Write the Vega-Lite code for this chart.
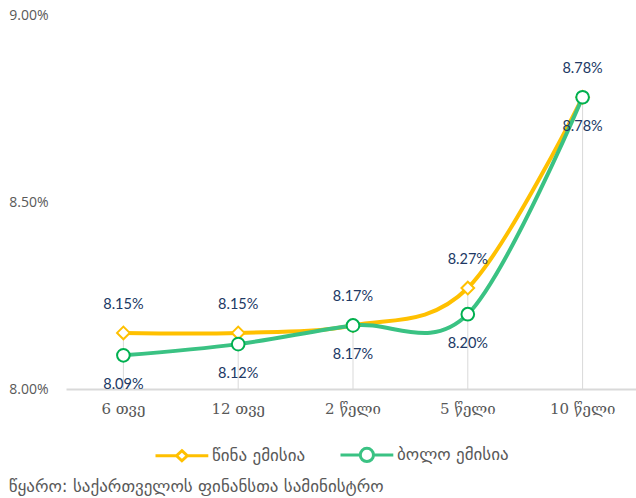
{
  "$schema": "https://vega.github.io/schema/vega-lite/v6.json",
  "width": 574,
  "height": 374,
  "padding": {"left": 8, "top": 8, "right": 0, "bottom": 4},
  "background": "white",
  "data": {
    "values": [
      {"term": "6 თვე", "series": "წინა ემისია", "value": 8.15},
      {"term": "12 თვე", "series": "წინა ემისია", "value": 8.15},
      {"term": "2 წელი", "series": "წინა ემისია", "value": 8.17},
      {"term": "5 წელი", "series": "წინა ემისია", "value": 8.27},
      {"term": "10 წელი", "series": "წინა ემისია", "value": 8.78},
      {"term": "6 თვე", "series": "ბოლო ემისია", "value": 8.09},
      {"term": "12 თვე", "series": "ბოლო ემისია", "value": 8.12},
      {"term": "2 წელი", "series": "ბოლო ემისია", "value": 8.17},
      {"term": "5 წელი", "series": "ბოლო ემისია", "value": 8.20},
      {"term": "10 წელი", "series": "ბოლო ემისია", "value": 8.78}
    ]
  },
  "transform": [{"calculate": "format(datum.value, '.2f') + '%'", "as": "label"}],
  "title": {
    "text": "წყარო: საქართველოს ფინანსთა სამინისტრო",
    "orient": "bottom",
    "anchor": "start",
    "frame": "bounds",
    "font": "DejaVu Sans",
    "fontSize": 17,
    "fontWeight": "normal",
    "color": "#595959",
    "offset": 11
  },
  "encoding": {
    "x": {
      "field": "term",
      "type": "nominal",
      "sort": null,
      "scale": {"paddingInner": 0, "paddingOuter": 0},
      "axis": {
        "title": null,
        "labelAngle": 0,
        "ticks": false,
        "domainColor": "#d9d9d9",
        "domainWidth": 2,
        "labelFont": "DejaVu Serif",
        "labelFontSize": 15,
        "labelColor": "#595959",
        "labelPadding": 12,
        "grid": false
      }
    },
    "y": {
      "field": "value",
      "type": "quantitative",
      "scale": {"domain": [8, 9], "nice": false, "zero": false},
      "axis": {
        "title": null,
        "values": [8, 8.5, 9],
        "labelExpr": "format(datum.value, '.2f') + '%'",
        "domain": false,
        "ticks": false,
        "grid": false,
        "labelFont": "Open Sans",
        "labelFontSize": 14,
        "labelColor": "#595959",
        "labelPadding": 18
      }
    }
  },
  "layer": [
    {
      "transform": [{"aggregate": [{"op": "max", "field": "value", "as": "maxv"}], "groupby": ["term"]}],
      "mark": {"type": "rule", "color": "#d9d9d9", "strokeWidth": 1},
      "encoding": {
        "y": {"field": "maxv", "type": "quantitative"},
        "y2": {"datum": 8}
      }
    },
    {
      "mark": {"type": "line", "interpolate": "cardinal", "strokeWidth": 4},
      "encoding": {
        "color": {
          "field": "series",
          "type": "nominal",
          "sort": null,
          "scale": {"domain": ["წინა ემისია", "ბოლო ემისია"], "range": ["#FFC000", "#3AC283"]},
          "legend": {
            "title": null,
            "orient": "none",
            "legendX": 88,
            "legendY": 426,
            "direction": "horizontal",
            "symbolType": "M-1,0L0.7,0M1.7,0L3.4,0M1.2,-0.5L1.7,0L1.2,0.5L0.7,0Z",
            "symbolSize": 576,
            "symbolStrokeWidth": 3,
            "symbolFillColor": "white",
            "labelOffset": 31,
            "columnPadding": 28,
            "labelFont": "DejaVu Sans",
            "labelFontSize": 17,
            "labelColor": "#595959",
            "encode": {
              "symbols": {
                "update": {
                  "shape": {"signal": "datum.value === 'წინა ემისია' ? 'M-1,0L0.75,0M1.65,0L3.4,0M1.2,-0.42L1.65,0L1.2,0.42L0.75,0Z' : 'M-1,0L0.65,0M1.75,0L3.4,0M1.75,0A0.55,0.55,0,1,1,0.65,0A0.55,0.55,0,1,1,1.75,0Z'"},
                  "fill": {"value": "white"}
                }
              }
            }
          }
        }
      }
    },
    {
      "transform": [{"filter": "datum.series === 'წინა ემისია'"}],
      "mark": {"type": "point", "shape": "diamond", "filled": true, "fill": "white", "stroke": "#FFC000", "strokeWidth": 2, "size": 160, "opacity": 1}
    },
    {
      "transform": [{"filter": "datum.series === 'ბოლო ემისია'"}],
      "mark": {"type": "point", "shape": "circle", "filled": true, "fill": "white", "stroke": "#00B050", "strokeWidth": 2, "size": 160, "opacity": 1}
    },
    {
      "transform": [{"filter": "datum.series === 'წინა ემისია'"}],
      "mark": {"type": "text", "dy": -28, "font": "Lato", "fontSize": 14.5, "color": "#203864", "baseline": "middle"},
      "encoding": {"text": {"field": "label", "type": "nominal"}}
    },
    {
      "transform": [{"filter": "datum.series === 'ბოლო ემისია'"}],
      "mark": {"type": "text", "dy": 30, "font": "Lato", "fontSize": 14.5, "color": "#203864", "baseline": "middle"},
      "encoding": {"text": {"field": "label", "type": "nominal"}}
    }
  ],
  "config": {"view": {"stroke": null}}
}
